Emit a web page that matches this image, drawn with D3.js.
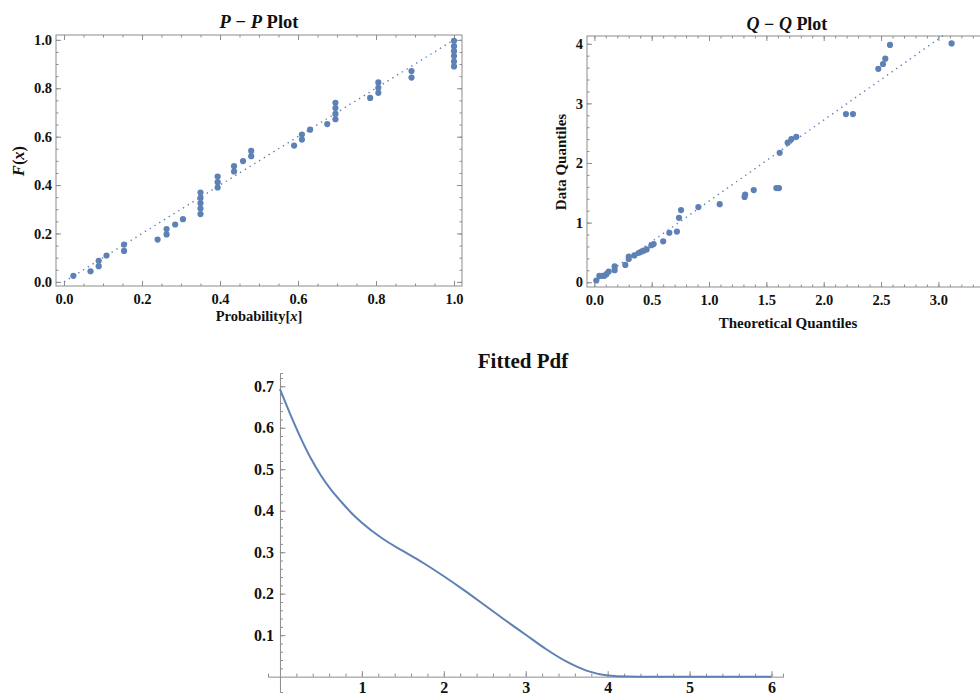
<!DOCTYPE html>
<html>
<head>
<meta charset="utf-8">
<script src="https://cdn.jsdelivr.net/npm/d3@7"></script>
<style>
  body { margin: 0; background: #fff; }
  svg  { display: block; font-family: "Liberation Serif", "Times New Roman", serif; }
  .tick text { font-family: "Liberation Serif", "Times New Roman", serif; font-weight: bold; fill: #111; }
  .lbl { font-weight: bold; fill: #111; }
</style>
</head>
<body>
<svg id="chart"></svg>
<script>
// ── DATA ─────────────────────────────────────────────────────────────────
// P-P plot: theoretical probability vs empirical F(x)
const ppProb = [0.024, 0.068, 0.089, 0.089, 0.109, 0.154, 0.154, 0.240, 0.263, 0.263,
  0.285, 0.305, 0.350, 0.350, 0.350, 0.350, 0.350, 0.394, 0.394, 0.394,
  0.436, 0.436, 0.459, 0.480, 0.480, 0.590, 0.610, 0.610, 0.631, 0.675,
  0.696, 0.696, 0.696, 0.696, 0.785, 0.806, 0.806, 0.806, 0.891, 0.891,
  1.0, 1.0, 1.0, 1.0, 1.0, 1.0];
const ppF = [0.025, 0.044, 0.087, 0.065, 0.109, 0.154, 0.128, 0.175, 0.218, 0.196,
  0.237, 0.259, 0.369, 0.347, 0.325, 0.303, 0.280, 0.435, 0.412, 0.390,
  0.478, 0.456, 0.499, 0.541, 0.519, 0.563, 0.609, 0.588, 0.629, 0.652,
  0.740, 0.718, 0.694, 0.672, 0.760, 0.824, 0.802, 0.781, 0.871, 0.844,
  0.996, 0.974, 0.953, 0.933, 0.910, 0.890];

// Q-Q plot: theoretical quantiles vs data quantiles
const qqTheo = [0.017, 0.044, 0.067, 0.087, 0.105, 0.125, 0.177, 0.177, 0.270, 0.300,
  0.300, 0.349, 0.386, 0.407, 0.430, 0.456, 0.497, 0.517, 0.600, 0.654,
  0.720, 0.738, 0.756, 0.907, 1.093, 1.310, 1.315, 1.390, 1.587, 1.610,
  1.616, 1.686, 1.718, 1.761, 2.194, 2.255, 2.476, 2.517, 2.537, 2.578, 3.115];
const qqData = [0.029, 0.108, 0.108, 0.108, 0.135, 0.180, 0.265, 0.202, 0.290, 0.430,
  0.390, 0.450, 0.490, 0.510, 0.530, 0.550, 0.620, 0.640, 0.686, 0.830,
  0.850, 1.080, 1.210, 1.260, 1.310, 1.430, 1.470, 1.545, 1.580, 1.580,
  2.170, 2.340, 2.400, 2.440, 2.820, 2.820, 3.580, 3.660, 3.750, 3.980, 4.005];
const qqSlope = 1.36;
const qqLineEnd = 3.04;

// Fitted pdf curve samples
const pdfX = [0, 0.125, 0.25, 0.375, 0.5, 0.625, 0.75, 0.875, 1.0, 1.25, 1.5, 1.75, 2.0,
  2.25, 2.5, 2.75, 3.0, 3.25, 3.5, 3.75, 4.0, 4.25, 4.5, 5.0, 5.5, 6.0];
const pdfY = [0.693, 0.633, 0.577, 0.527, 0.485, 0.450, 0.421, 0.394, 0.371, 0.333,
  0.303, 0.274, 0.242, 0.208, 0.172, 0.136, 0.101, 0.066, 0.036, 0.014,
  0.003, 0.0005, 0, 0, 0, 0];

// Tick values
const ppMajor = [0, 0.2, 0.4, 0.6, 0.8, 1.0];
const ppMinor = d3.range(0, 1.0001, 0.05);
const qqXMajor = [0, 0.5, 1.0, 1.5, 2.0, 2.5, 3.0];
const qqXMinor = d3.range(0, 3.45, 0.1);
const qqYMajor = [0, 1, 2, 3, 4];
const qqYMinor = d3.range(0, 4.1, 0.2);
const pdfXMajor = [1, 2, 3, 4, 5, 6];
const pdfXMinor = d3.range(0.2, 6.01, 0.2);
const pdfYMajor = [0.1, 0.2, 0.3, 0.4, 0.5, 0.6, 0.7];
const pdfYMinor = d3.range(0.02, 0.721, 0.02);

// ── SETUP ────────────────────────────────────────────────────────────────
const W = 980, H = 697;
const BLUE = "#5e81b5";
const GRAY = "#8c8c8c";

const svg = d3.select("#chart")
  .attr("width", W)
  .attr("height", H)
  .attr("viewBox", `0 0 ${W} ${H}`);

// framed plot with ticks on all four sides, labels on bottom/left
function drawFrame(x, y, xMajor, xMinor, yMajor, yMinor, xFmt, yFmt, fs) {
  const [x0, x1] = x.range();
  const [y0, y1] = y.range();
  const fr = svg.append("g");

  const sides = [
    [d3.axisBottom, x, `translate(0,${y0})`, xMajor, xMinor, xFmt],
    [d3.axisTop,    x, `translate(0,${y1})`, xMajor, xMinor, null],
    [d3.axisLeft,   y, `translate(${x0},0)`, yMajor, yMinor, yFmt],
    [d3.axisRight,  y, `translate(${x1},0)`, yMajor, yMinor, null]
  ];
  sides.forEach(([ax, sc, tr, maj, min, fmt]) => {
    fr.append("g").attr("transform", tr)
      .call(ax(sc).tickValues(min).tickSize(-2.5).tickFormat(""))
      .call(a => a.select(".domain").remove())
      .call(a => a.selectAll("line").attr("stroke", GRAY));
    fr.append("g").attr("transform", tr)
      .call(ax(sc).tickValues(maj).tickSize(-5).tickPadding(ax === d3.axisBottom ? 8 : 4)
        .tickFormat(fmt ? fmt : ""))
      .call(a => a.select(".domain").remove())
      .call(a => a.selectAll("line").attr("stroke", GRAY))
      .call(a => a.selectAll("text").style("font-size", fs + "px"));
  });

  fr.append("rect")
    .attr("x", x0).attr("y", y1)
    .attr("width", x1 - x0).attr("height", y0 - y1)
    .attr("fill", "none")
    .attr("stroke", GRAY)
    .attr("stroke-width", 1);
}

// ── P-P PLOT ─────────────────────────────────────────────────────────────
const ppx = d3.scaleLinear().domain([-0.0205, 1.0205]).range([56, 462]);
const ppy = d3.scaleLinear().domain([-0.017, 1.02]).range([286, 35]);

drawFrame(ppx, ppy, ppMajor, ppMinor, ppMajor, ppMinor,
  d3.format(".1f"), d3.format(".1f"), 14.5);

svg.append("line")
  .attr("x1", ppx(0)).attr("y1", ppy(0))
  .attr("x2", ppx(1)).attr("y2", ppy(1))
  .attr("stroke", BLUE).attr("stroke-width", 1.4)
  .attr("stroke-dasharray", "1.4 4.2");

svg.append("g").selectAll("circle")
  .data(ppProb.map((p, i) => [p, ppF[i]]))
  .join("circle")
    .attr("cx", d => ppx(d[0]))
    .attr("cy", d => ppy(d[1]))
    .attr("r", 3.1)
    .attr("fill", BLUE);

const ppTitle = svg.append("text").attr("class", "lbl")
  .attr("x", 259).attr("y", 28).attr("text-anchor", "middle")
  .style("font-size", "18.5px");
ppTitle.append("tspan").attr("font-style", "italic").text("P");
ppTitle.append("tspan").text(" − ");
ppTitle.append("tspan").attr("font-style", "italic").text("P");
ppTitle.append("tspan").text(" Plot");

const ppXLab = svg.append("text").attr("class", "lbl")
  .attr("x", 259).attr("y", 321).attr("text-anchor", "middle")
  .style("font-size", "14.5px");
ppXLab.append("tspan").text("Probability[");
ppXLab.append("tspan").attr("font-style", "italic").text("x");
ppXLab.append("tspan").text("]");

const ppYLab = svg.append("text").attr("class", "lbl")
  .attr("transform", "translate(24,161) rotate(-90)")
  .attr("text-anchor", "middle")
  .style("font-size", "16.5px");
ppYLab.append("tspan").attr("font-style", "italic").text("F");
ppYLab.append("tspan").text("(");
ppYLab.append("tspan").attr("font-style", "italic").text("x");
ppYLab.append("tspan").text(")");

// ── Q-Q PLOT ─────────────────────────────────────────────────────────────
const qqx = d3.scaleLinear().domain([-0.064, 3.45]).range([587, 990]);
const qqy = d3.scaleLinear().domain([-0.08, 4.13]).range([287, 36]);

drawFrame(qqx, qqy, qqXMajor, qqXMinor, qqYMajor, qqYMinor,
  d3.format(".1f"), d3.format("d"), 14.5);

svg.append("line")
  .attr("x1", qqx(0)).attr("y1", qqy(0))
  .attr("x2", qqx(qqLineEnd)).attr("y2", qqy(qqLineEnd * qqSlope))
  .attr("stroke", BLUE).attr("stroke-width", 1.4)
  .attr("stroke-dasharray", "1.4 4.2");

svg.append("g").selectAll("circle")
  .data(qqTheo.map((t, i) => [t, qqData[i]]))
  .join("circle")
    .attr("cx", d => qqx(d[0]))
    .attr("cy", d => qqy(d[1]))
    .attr("r", 3.1)
    .attr("fill", BLUE);

const qqTitle = svg.append("text").attr("class", "lbl")
  .attr("x", 787).attr("y", 30).attr("text-anchor", "middle")
  .style("font-size", "18px");
qqTitle.append("tspan").attr("font-style", "italic").text("Q");
qqTitle.append("tspan").text(" − ");
qqTitle.append("tspan").attr("font-style", "italic").text("Q");
qqTitle.append("tspan").text(" Plot");

svg.append("text").attr("class", "lbl")
  .attr("x", 788).attr("y", 328).attr("text-anchor", "middle")
  .style("font-size", "15px")
  .text("Theoretical Quantiles");

svg.append("text").attr("class", "lbl")
  .attr("transform", "translate(566,162) rotate(-90)")
  .attr("text-anchor", "middle")
  .style("font-size", "15px")
  .text("Data Quantiles");

// ── FITTED PDF ───────────────────────────────────────────────────────────
const px = d3.scaleLinear().domain([-0.146, 6.14]).range([268, 783]);
const py = d3.scaleLinear().domain([-0.037, 0.732]).range([692, 373]);

const pg = svg.append("g");
[[d3.axisBottom(px), `translate(0,${py(0)})`, pdfXMajor, pdfXMinor, 5],
 [d3.axisLeft(py),   `translate(${px(0)},0)`, pdfYMajor, pdfYMinor, 6]]
  .forEach(([ax, tr, maj, min, pad]) => {
    pg.append("g").attr("transform", tr)
      .call(ax.tickValues(min).tickSize(-3).tickFormat(""))
      .call(a => a.selectAll("line").attr("stroke", GRAY))
      .call(a => a.select(".domain").attr("stroke", GRAY));
    pg.append("g").attr("transform", tr)
      .call(ax.tickValues(maj).tickSize(-5.5).tickPadding(pad).tickFormat(d => d))
      .call(a => a.select(".domain").remove())
      .call(a => a.selectAll("line").attr("stroke", GRAY))
      .call(a => a.selectAll("text").style("font-size", "16px"));
  });

svg.append("path")
  .datum(pdfX.map((v, i) => [v, pdfY[i]]))
  .attr("fill", "none")
  .attr("stroke", BLUE)
  .attr("stroke-width", 2)
  .attr("d", d3.line()
    .x(d => px(d[0]))
    .y(d => py(d[1]))
    .curve(d3.curveMonotoneX));

svg.append("text").attr("class", "lbl")
  .attr("x", 523).attr("y", 368).attr("text-anchor", "middle")
  .style("font-size", "21px")
  .text("Fitted Pdf");
</script>
</body>
</html>
